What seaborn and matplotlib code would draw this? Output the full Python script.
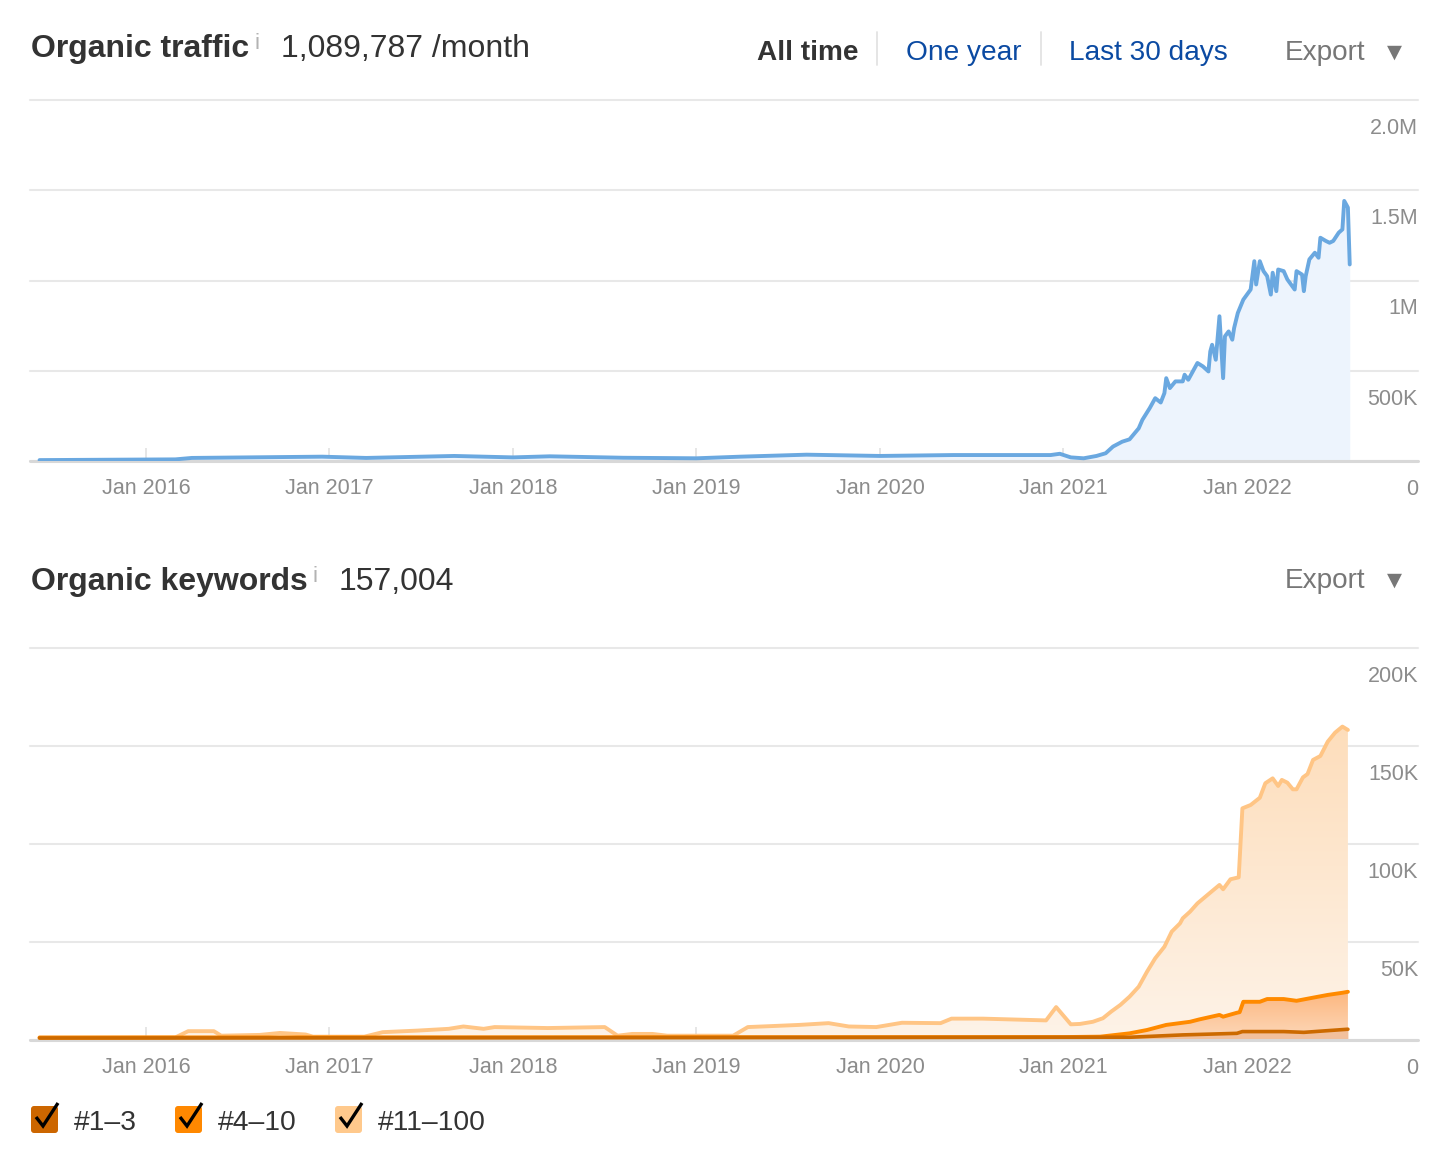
import numpy as np
import pandas as pd
import matplotlib
matplotlib.use("Agg")
import matplotlib.pyplot as plt
import matplotlib.transforms as mtransforms
from matplotlib.patches import FancyBboxPatch
from matplotlib.colors import LinearSegmentedColormap
import seaborn as sns

# ---- data, x in decimal years ----
traffic_x = [2015.42, 2016.16, 2016.25, 2016.96, 2017.20, 2017.68, 2018.00, 2018.20,
             2018.60, 2019.00, 2019.24, 2019.60, 2020.00, 2020.40, 2020.93, 2020.98,
             2021.04, 2021.11, 2021.18, 2021.23, 2021.27, 2021.32, 2021.36, 2021.41,
             2021.43, 2021.47, 2021.50, 2021.53, 2021.55, 2021.56, 2021.58, 2021.61,
             2021.65, 2021.66, 2021.68, 2021.73, 2021.76, 2021.79, 2021.80, 2021.81,
             2021.83, 2021.85, 2021.87, 2021.88, 2021.90, 2021.92, 2021.93, 2021.95,
             2021.98, 2022.02, 2022.04, 2022.05, 2022.07, 2022.09, 2022.11, 2022.13,
             2022.14, 2022.16, 2022.17, 2022.20, 2022.22, 2022.26, 2022.27, 2022.30,
             2022.31, 2022.32, 2022.34, 2022.37, 2022.39, 2022.40, 2022.43, 2022.45,
             2022.47, 2022.50, 2022.52, 2022.53, 2022.55, 2022.56]
traffic_k = [5, 9, 17, 24, 17, 28, 20, 26,
             18, 15, 24, 35, 28, 33, 33, 40,
             20, 15, 28, 43, 80, 107, 120, 181,
             228, 293, 348, 324, 376, 459, 404, 441,
             441, 478, 450, 543, 524, 496, 607, 644,
             561, 802, 459, 691, 718, 672, 737, 820,
             894, 950, 1107, 978, 1107, 1052, 1024, 922,
             1043, 941, 1061, 1052, 1006, 950, 1052, 1033,
             941, 1024, 1117, 1154, 1126, 1237, 1219, 1209,
             1219, 1265, 1283, 1441, 1404, 1089]

# keywords: top of each stacked band (thousands)
kw_top_x = [2015.42, 2016.16, 2016.23, 2016.37, 2016.41, 2016.62, 2016.73, 2016.87,
            2016.91, 2017.19, 2017.29, 2017.48, 2017.65, 2017.73, 2017.84, 2017.90,
            2018.19, 2018.50, 2018.57, 2018.65, 2018.76, 2018.84, 2019.20, 2019.28,
            2019.41, 2019.56, 2019.72, 2019.83, 2019.98, 2020.12, 2020.33, 2020.39,
            2020.56, 2020.905, 2020.96, 2021.04, 2021.09, 2021.16, 2021.215, 2021.26,
            2021.31, 2021.36, 2021.41, 2021.455, 2021.50, 2021.55, 2021.59, 2021.635,
            2021.65, 2021.69, 2021.73, 2021.80, 2021.85, 2021.87, 2021.91, 2021.955,
            2021.975, 2022.02, 2022.07, 2022.10, 2022.14, 2022.17, 2022.19, 2022.22,
            2022.25, 2022.27, 2022.305, 2022.33, 2022.36, 2022.40, 2022.44, 2022.48,
            2022.52, 2022.55]
kw_11_100 = [1.0, 1.3, 4.5, 4.5, 2.2, 2.6, 3.6, 2.8,
             1.7, 1.7, 4.0, 4.8, 5.7, 6.9, 5.7, 6.6,
             6.1, 6.6, 2.2, 3.1, 3.1, 2.2, 2.2, 6.6,
             7.1, 7.7, 8.6, 6.9, 6.6, 8.8, 8.6, 10.9,
             10.9, 10.0, 16.8, 8.0, 8.2, 9.3, 11.1, 14.5,
             17.9, 22.1, 27.2, 34.8, 41.7, 47.6, 55.3, 59.5,
             62.1, 65.5, 69.7, 75.2, 79.1, 76.9, 82.0, 83.0,
             118.2, 119.9, 123.6, 131.0, 133.5, 129.6, 132.7, 131.3,
             127.9, 127.9, 134.0, 135.7, 142.9, 144.9, 152.2, 156.8,
             159.9, 158.2]

kw_mid_x = [2015.42, 2021.00, 2021.20, 2021.36, 2021.455, 2021.56, 2021.69, 2021.74,
            2021.85, 2021.87, 2021.945, 2021.96, 2021.98, 2022.07, 2022.11, 2022.20,
            2022.27, 2022.36, 2022.44, 2022.52, 2022.55]
kw_4_10 = [1.3, 1.5, 1.7, 3.4, 5.1, 7.7, 9.3, 10.5,
           12.8, 11.9, 13.9, 14.2, 19.5, 19.5, 20.9, 20.9,
           20.0, 21.6, 23.0, 24.1, 24.6]

kw_low_x = [2015.42, 2021.36, 2021.65, 2021.945, 2021.975, 2022.20, 2022.31, 2022.55]
kw_1_3 = [1.0, 1.4, 2.6, 3.4, 4.3, 4.3, 3.9, 5.5]

years = [2016, 2017, 2018, 2019, 2020, 2021, 2022]
year_labels = ["Jan %d" % y for y in years]
traffic_ticks = [0, 500, 1000, 1500, 2000]
traffic_tick_labels = ["0", "500K", "1M", "1.5M", "2.0M"]
kw_ticks = [0, 50, 100, 150, 200]
kw_tick_labels = ["0", "50K", "100K", "150K", "200K"]
legend_labels = ["#1\u20133", "#4\u201310", "#11\u2013100"]

# ---- style ----
sns.set_theme(style="white")
plt.rcParams["font.family"] = ["Liberation Sans", "DejaVu Sans"]

W, H = 1450, 1160
fig = plt.figure(figsize=(W / 100, H / 100), dpi=100)
fig.patch.set_facecolor("white")

GRID = "#e8e8e8"
TICKTXT = "#8c8c8c"
XMIN, XMAX = 2015.368, 2022.932


def make_axes(top_px, bottom_px):
    return fig.add_axes([30 / W, 1 - bottom_px / H, (1418 - 30) / W, (bottom_px - top_px) / H])


def style_axes(ax, ticks, labels, ymax):
    ax.set_xlim(XMIN, XMAX)
    ax.set_ylim(0, ymax)
    for s in ax.spines.values():
        s.set_visible(False)
    ax.set_yticks(ticks)
    ax.yaxis.grid(True, color=GRID, lw=1.5)
    for gl in ax.get_ygridlines():
        gl.set_clip_on(False)
    ax.tick_params(axis="y", left=False, labelleft=False)
    ax.set_xticks(years)
    ax.set_xticklabels(year_labels)
    ax.tick_params(axis="x", direction="in", length=9.5, width=1.2, color="#e2e2e2",
                   pad=12.5, labelsize=15.5, labelcolor=TICKTXT, bottom=True)
    ax.axhline(0, color="#d8d8d8", lw=2.2, zorder=4, clip_on=False)
    ax.set_xlabel("")
    ax.set_ylabel("")
    tr = mtransforms.offset_copy(ax.get_yaxis_transform(), fig=fig, y=-28.5, units="dots")
    for v, lab in zip(ticks, labels):
        ax.text(1.0, v, lab, transform=tr, ha="right", va="center",
                fontsize=15.5, color=TICKTXT)


def gradient_fill(ax, x, y, top_color, bottom_color, ymax, zorder):
    poly = ax.fill_between(x, y, color="none", lw=0)
    path = poly.get_paths()[0]
    grad = np.linspace(0, 1, 256).reshape(-1, 1)
    cmap = LinearSegmentedColormap.from_list("g", [bottom_color, top_color])
    im = ax.imshow(grad, extent=[x[0], x[-1], 0, ymax], origin="lower",
                   aspect="auto", cmap=cmap, zorder=zorder, interpolation="bilinear")
    im.set_clip_path(path, ax.transData)


# ---- organic traffic ----
ax1 = make_axes(100, 461)
traffic = pd.DataFrame({"x": traffic_x, "v": traffic_k})
ax1.fill_between(traffic["x"], traffic["v"], color="#edf4fd", lw=0, zorder=1)
sns.lineplot(data=traffic, x="x", y="v", ax=ax1, color="#6aa8e0", lw=2.8,
             sort=False, estimator=None, zorder=5)
style_axes(ax1, traffic_ticks, traffic_tick_labels, 2000)

# ---- organic keywords ----
ax2 = make_axes(648, 1040)
top = pd.DataFrame({"x": kw_top_x, "v": kw_11_100})
mid = pd.DataFrame({"x": kw_mid_x, "v": kw_4_10})
low = pd.DataFrame({"x": kw_low_x, "v": kw_1_3})
gradient_fill(ax2, kw_top_x, kw_11_100, "#fddcb8", "#fef3e8", 170, 1)
gradient_fill(ax2, kw_mid_x, kw_4_10, "#fcb57c", "#fdd9bb", 26, 2)
ax2.fill_between(kw_low_x, kw_1_3, color="#f2c09c", lw=0, zorder=3)
sns.lineplot(data=top, x="x", y="v", ax=ax2, color="#ffc585", lw=2.8,
             sort=False, estimator=None, zorder=5)
sns.lineplot(data=mid, x="x", y="v", ax=ax2, color="#ff8a00", lw=2.8,
             sort=False, estimator=None, zorder=6)
sns.lineplot(data=low, x="x", y="v", ax=ax2, color="#cc6a00", lw=2.6,
             sort=False, estimator=None, zorder=7)
style_axes(ax2, kw_ticks, kw_tick_labels, 200)

# ---- header / legend overlay in pixel coordinates ----
ov = fig.add_axes([0, 0, 1, 1])
ov.set_xlim(0, W)
ov.set_ylim(H, 0)
ov.axis("off")

DARK = "#333333"
HEAD = 23
CTRL = 20.2
ov.text(31, 57, "Organic traffic", fontsize=HEAD, fontweight="bold", color=DARK, va="baseline")
ov.text(255, 49, "i", fontsize=16, color="#b3b3b3", va="baseline")
ov.text(281, 57, "1,089,787 /month", fontsize=HEAD, color=DARK, va="baseline")
ov.text(757, 59.5, "All time", fontsize=CTRL, fontweight="bold", color=DARK, va="baseline")
ov.text(906, 59.5, "One year", fontsize=CTRL, color="#0b4aa2", va="baseline")
ov.text(1069, 59.5, "Last 30 days", fontsize=CTRL, color="#0b4aa2", va="baseline")
ov.plot([877, 877], [32, 65], color="#e3e3e3", lw=1.3)
ov.plot([1041, 1041], [32, 65], color="#e3e3e3", lw=1.3)
for yb, yt in [(60, 52), (588, 580)]:
    ov.text(1285, yb, "Export", fontsize=CTRL, color="#777777", va="baseline")
    ov.text(1394, yt, "\u25bc", fontsize=14, color="#777777", ha="center", va="center",
            family="DejaVu Sans")

ov.text(31, 590, "Organic keywords", fontsize=HEAD, fontweight="bold", color=DARK, va="baseline")
ov.text(313, 582, "i", fontsize=16, color="#b3b3b3", va="baseline")
ov.text(339, 590, "157,004", fontsize=HEAD, color=DARK, va="baseline")

legend_colors = ["#cc6600", "#ff8800", "#ffc98c"]
box_x = [31, 175, 335]
for bx, col, lab in zip(box_x, legend_colors, legend_labels):
    ov.add_patch(FancyBboxPatch((bx, 1106), 27, 27, boxstyle="round,pad=0,rounding_size=3",
                                fc=col, ec="none"))
    ov.plot([bx + 5, bx + 12, bx + 27], [1117, 1126, 1103], color="black", lw=2.4,
            solid_joinstyle="miter", solid_capstyle="butt")
    ov.text(bx + 43, 1130, lab, fontsize=20.3, color=DARK, va="baseline")

fig.savefig("out.png", dpi=100, facecolor="white")
